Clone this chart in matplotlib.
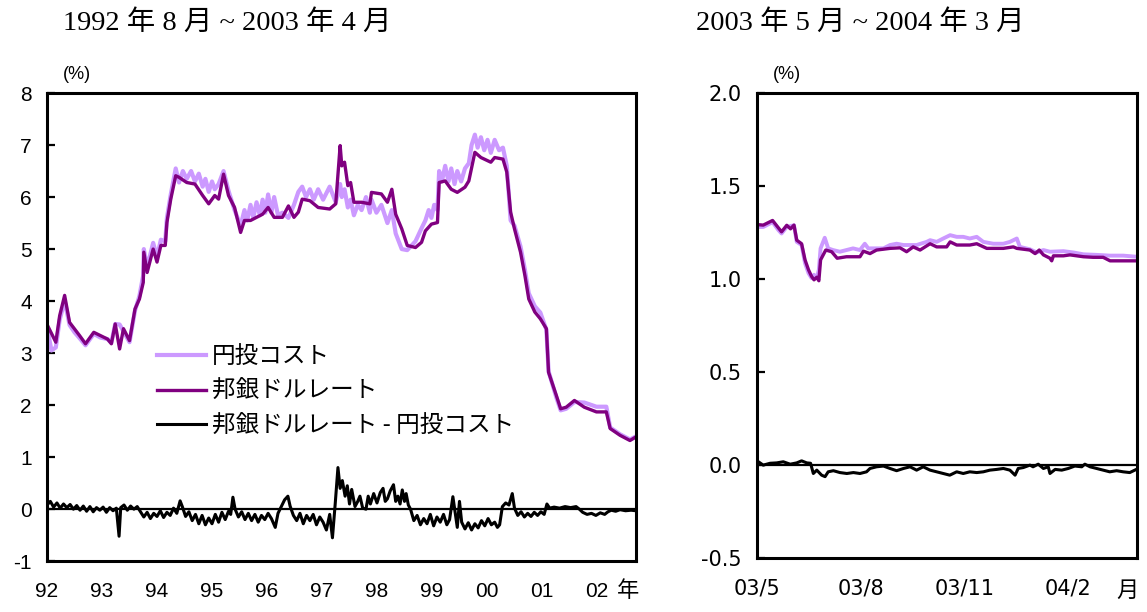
import matplotlib.pyplot as plt
import numpy as np

# ---- left panel: 1992/8 - 2003/4 (decimal years) ----
bank_t = [1992.59, 1992.74, 1992.81, 1992.90, 1992.99, 1993.17, 1993.28, 1993.43, 1993.68, 1993.75,
          1993.82, 1993.90, 1993.97, 1994.08, 1994.18, 1994.26, 1994.33, 1994.34, 1994.40, 1994.51,
          1994.58, 1994.65, 1994.73, 1994.76, 1994.83, 1994.92, 1994.98, 1995.12, 1995.27, 1995.41,
          1995.52, 1995.63, 1995.70, 1995.79, 1995.88, 1995.99, 1996.10, 1996.17, 1996.28, 1996.39,
          1996.50, 1996.60, 1996.71, 1996.86, 1996.97, 1997.07, 1997.15, 1997.22, 1997.36, 1997.51,
          1997.72, 1997.83, 1997.91, 1997.94, 1997.99, 1998.05, 1998.10, 1998.16, 1998.30, 1998.45,
          1998.48, 1998.66, 1998.77, 1998.85, 1998.92, 1999.03, 1999.13, 1999.28, 1999.39, 1999.46,
          1999.57, 1999.68, 1999.71, 1999.82, 1999.93, 2000.04, 2000.18, 2000.25, 2000.36, 2000.47,
          2000.65, 2000.72, 2000.87, 2000.94, 2001.01, 2001.08, 2001.19, 2001.27, 2001.34, 2001.45,
          2001.55, 2001.66, 2001.70, 2001.84, 2001.92, 2002.02, 2002.17, 2002.35, 2002.57, 2002.75,
          2002.82, 2003.00, 2003.18, 2003.29]

# 邦銀ドルレート
bank_rate = [3.53, 3.21, 3.72, 4.11, 3.59, 3.34, 3.18, 3.40, 3.27, 3.18,
             3.56, 3.08, 3.47, 3.24, 3.85, 4.04, 4.36, 4.94, 4.55, 5.00,
             4.75, 5.07, 5.07, 5.51, 5.96, 6.41, 6.38, 6.28, 6.25, 6.03,
             5.87, 6.03, 5.96, 6.44, 6.03, 5.80, 5.32, 5.55, 5.55, 5.61,
             5.67, 5.80, 5.61, 5.61, 5.83, 5.61, 5.71, 5.96, 5.93, 5.80,
             5.77, 5.87, 6.99, 6.60, 6.67, 6.22, 6.28, 5.90, 5.90, 5.87,
             6.09, 6.06, 5.90, 6.15, 5.67, 5.39, 5.07, 5.03, 5.13, 5.35,
             5.48, 5.51, 6.28, 6.31, 6.15, 6.09, 6.19, 6.31, 6.86, 6.76,
             6.67, 6.76, 6.73, 6.48, 5.71, 5.39, 4.94, 4.49, 4.04, 3.79,
             3.66, 3.47, 2.63, 2.19, 1.93, 1.96, 2.09, 1.96, 1.87, 1.87,
             1.55, 1.42, 1.32, 1.39]

# 円投コスト
yen_t = [1992.59, 1992.66, 1992.74, 1992.81, 1992.90, 1992.99, 1993.08, 1993.17, 1993.28, 1993.43,
         1993.55, 1993.68, 1993.75, 1993.82, 1993.90, 1993.97, 1994.08, 1994.18, 1994.26, 1994.33,
         1994.34, 1994.40, 1994.51, 1994.58, 1994.65, 1994.73, 1994.76, 1994.83, 1994.92, 1994.98,
         1995.05, 1995.12, 1995.20, 1995.27, 1995.34, 1995.41, 1995.46, 1995.52, 1995.58, 1995.63,
         1995.70, 1995.79, 1995.88, 1995.99, 1996.10, 1996.17, 1996.22, 1996.28, 1996.33, 1996.39,
         1996.45, 1996.50, 1996.55, 1996.60, 1996.66, 1996.71, 1996.78, 1996.86, 1996.97, 1997.07,
         1997.15, 1997.22, 1997.29, 1997.36, 1997.43, 1997.51, 1997.60, 1997.72, 1997.83, 1997.91,
         1997.94, 1997.99, 1998.05, 1998.10, 1998.16, 1998.23, 1998.30, 1998.38, 1998.45, 1998.48,
         1998.57, 1998.66, 1998.77, 1998.85, 1998.92, 1999.03, 1999.13, 1999.28, 1999.39, 1999.46,
         1999.52, 1999.57, 1999.62, 1999.68, 1999.71, 1999.76, 1999.82, 1999.88, 1999.93, 1999.99,
         2000.04, 2000.11, 2000.18, 2000.25, 2000.30, 2000.36, 2000.41, 2000.47, 2000.53, 2000.59,
         2000.65, 2000.72, 2000.80, 2000.87, 2000.94, 2001.01, 2001.08, 2001.19, 2001.27, 2001.34,
         2001.45, 2001.55, 2001.66, 2001.70, 2001.84, 2001.92, 2002.02, 2002.17, 2002.35, 2002.57,
         2002.75, 2002.82, 2003.00, 2003.18, 2003.29]
yen_cost = [3.45, 3.05, 3.11, 3.64, 4.01, 3.54, 3.40, 3.29, 3.15, 3.37,
            3.30, 3.27, 3.20, 3.56, 3.55, 3.42, 3.21, 3.82, 4.10, 4.50,
            5.00, 4.65, 5.12, 4.85, 5.18, 5.15, 5.60, 6.05, 6.55, 6.28,
            6.50, 6.35, 6.50, 6.30, 6.45, 6.20, 6.35, 6.10, 6.30, 6.15,
            6.25, 6.50, 6.12, 5.75, 5.45, 5.75, 5.55, 5.85, 5.60, 5.90,
            5.65, 5.95, 5.70, 6.05, 5.70, 6.00, 5.65, 5.70, 5.60, 5.85,
            6.10, 6.20, 6.00, 6.15, 5.95, 6.15, 5.95, 6.20, 5.90, 6.25,
            6.00, 6.15, 5.80, 5.95, 5.65, 5.85, 5.75, 6.00, 5.70, 5.95,
            5.70, 5.85, 5.50, 5.75, 5.30, 5.00, 4.98, 5.15, 5.40, 5.55,
            5.75, 5.60, 5.85, 5.75, 6.50, 6.30, 6.60, 6.30, 6.55, 6.25,
            6.50, 6.30, 6.55, 6.65, 7.00, 7.20, 6.95, 7.15, 6.90, 7.10,
            6.85, 7.10, 6.90, 6.95, 6.60, 5.55, 5.45, 5.05, 4.60, 4.15,
            3.90, 3.78, 3.45, 2.65, 2.15, 1.90, 1.93, 2.06, 2.05, 1.97,
            1.97, 1.57, 1.44, 1.34, 1.40]

# 邦銀ドルレート - 円投コスト
diff_t = [1992.58, 1992.64, 1992.70, 1992.76, 1992.82, 1992.88, 1992.94, 1993.00, 1993.06, 1993.12,
          1993.18, 1993.24, 1993.30, 1993.36, 1993.42, 1993.48, 1993.54, 1993.60, 1993.66, 1993.72,
          1993.78, 1993.84, 1993.89, 1993.92, 1993.98, 1994.04, 1994.10, 1994.16, 1994.22, 1994.28,
          1994.34, 1994.40, 1994.46, 1994.52, 1994.58, 1994.64, 1994.70, 1994.76, 1994.82, 1994.88,
          1994.94, 1995.00, 1995.04, 1995.10, 1995.16, 1995.22, 1995.28, 1995.34, 1995.40, 1995.46,
          1995.52, 1995.58, 1995.64, 1995.70, 1995.76, 1995.82, 1995.88, 1995.92, 1995.96, 1996.00,
          1996.06, 1996.12, 1996.18, 1996.24, 1996.30, 1996.36, 1996.42, 1996.48, 1996.54, 1996.60,
          1996.66, 1996.73, 1996.78, 1996.84, 1996.90, 1996.96, 1997.00, 1997.06, 1997.12, 1997.18,
          1997.24, 1997.30, 1997.36, 1997.42, 1997.48, 1997.54, 1997.60, 1997.66, 1997.72, 1997.77,
          1997.82, 1997.87, 1997.91, 1997.95, 1998.00, 1998.04, 1998.08, 1998.12, 1998.18, 1998.23,
          1998.27, 1998.32, 1998.38, 1998.42, 1998.46, 1998.52, 1998.58, 1998.64, 1998.69, 1998.73,
          1998.77, 1998.82, 1998.88, 1998.92, 1998.96, 1999.00, 1999.04, 1999.08, 1999.11, 1999.15,
          1999.19, 1999.25, 1999.31, 1999.37, 1999.43, 1999.49, 1999.55, 1999.61, 1999.67, 1999.73,
          1999.79, 1999.85, 1999.90, 1999.96, 2000.00, 2000.04, 2000.08, 2000.12, 2000.18, 2000.24,
          2000.30, 2000.36, 2000.42, 2000.48, 2000.54, 2000.60, 2000.66, 2000.72, 2000.77, 2000.81,
          2000.86, 2000.92, 2000.98, 2001.04, 2001.08, 2001.14, 2001.20, 2001.26, 2001.32, 2001.38,
          2001.44, 2001.50, 2001.56, 2001.62, 2001.67, 2001.72, 2001.80, 2001.90, 2002.00, 2002.10,
          2002.20, 2002.26, 2002.32, 2002.40, 2002.48, 2002.56, 2002.64, 2002.72, 2002.78, 2002.84,
          2002.92, 2003.00, 2003.10, 2003.20, 2003.29]
diff_val = [0.08, 0.15, 0.04, 0.12, 0.02, 0.10, 0.03, 0.09, 0.00, 0.07,
            -0.02, 0.06, -0.04, 0.05, -0.05, 0.03, -0.02, 0.04, -0.06, 0.03,
            -0.03, 0.02, -0.52, 0.03, 0.08, -0.02, 0.06, 0.00, 0.05, -0.05,
            -0.15, -0.06, -0.18, -0.08, -0.14, -0.03, -0.16, -0.06, -0.12, 0.02,
            -0.08, 0.16, 0.05, -0.14, -0.05, -0.22, -0.10, -0.28, -0.12, -0.30,
            -0.17, -0.28, -0.10, -0.25, -0.06, -0.20, -0.04, -0.10, 0.23, 0.00,
            -0.15, -0.05, -0.20, -0.08, -0.22, -0.10, -0.25, -0.12, -0.20, -0.08,
            -0.18, -0.35, -0.08, 0.05, 0.18, 0.25, 0.06, -0.12, -0.22, -0.08,
            -0.28, -0.12, -0.22, -0.10, -0.30, -0.15, -0.25, -0.40, -0.10, -0.55,
            0.10, 0.80, 0.40, 0.55, 0.25, 0.45, 0.10, 0.38, 0.05, 0.15,
            0.25, 0.02, 0.00, 0.25, 0.10, 0.30, 0.12, 0.32, 0.40, 0.15,
            0.20, 0.35, 0.47, 0.15, 0.25, 0.10, 0.37, 0.15, 0.30, 0.08,
            0.00, -0.22, -0.12, -0.30, -0.18, -0.28, -0.10, -0.32, -0.15, -0.25,
            -0.10, -0.30, -0.20, 0.24, -0.05, -0.35, 0.15, -0.25, -0.38, -0.26,
            -0.40, -0.28, -0.36, -0.22, -0.32, -0.18, -0.30, -0.25, -0.35, -0.30,
            0.05, 0.12, 0.08, 0.30, 0.02, -0.12, -0.05, -0.15, -0.08, -0.14,
            -0.06, -0.12, -0.05, -0.10, 0.10, 0.02, 0.04, 0.02, 0.05, 0.03,
            0.05, 0.00, -0.06, -0.10, -0.08, -0.12, -0.07, -0.10, -0.05, -0.02,
            -0.04, -0.01, -0.03, -0.02, -0.03]

left_tick_labels = ['92', '93', '94', '95', '96', '97', '98', '99', '00', '01', '02']
left_yticks = [8, 7, 6, 5, 4, 3, 2, 1, 0, -1]

# ---- right panel: 2003/5 - 2004/3 (months since 2003/5) ----
r_bank_m = [0.00, 0.18, 0.45, 0.62, 0.71, 0.86, 0.97, 1.07, 1.15, 1.29,
            1.39, 1.49, 1.58, 1.65, 1.73, 1.79, 1.84, 1.99, 2.16, 2.32,
            2.59, 2.88, 2.98, 3.08, 3.27, 3.46, 3.85, 4.14, 4.33, 4.52,
            4.72, 5.01, 5.20, 5.49, 5.59, 5.78, 6.16, 6.36, 6.65, 7.13,
            7.42, 7.52, 7.90, 8.05, 8.17, 8.29, 8.48, 8.53, 8.58, 8.87,
            9.06, 9.45, 9.73, 10.02, 10.22, 10.60, 10.99]
r_bank = [1.293, 1.290, 1.315, 1.275, 1.254, 1.289, 1.270, 1.290, 1.209, 1.190,
          1.103, 1.050, 1.014, 0.996, 1.010, 0.991, 1.103, 1.156, 1.147, 1.112,
          1.120, 1.120, 1.120, 1.150, 1.137, 1.156, 1.165, 1.168, 1.147, 1.173,
          1.156, 1.190, 1.173, 1.173, 1.200, 1.183, 1.183, 1.190, 1.165, 1.165,
          1.173, 1.165, 1.156, 1.137, 1.156, 1.130, 1.112, 1.098, 1.125, 1.125,
          1.130, 1.120, 1.117, 1.117, 1.098, 1.098, 1.098]

r_yen_m = [0.00, 0.18, 0.45, 0.62, 0.71, 0.86, 1.07, 1.15, 1.29, 1.39,
           1.49, 1.58, 1.65, 1.73, 1.79, 1.84, 1.96, 2.06, 2.20, 2.40,
           2.59, 2.78, 2.98, 3.12, 3.22, 3.46, 3.66, 3.85, 4.04, 4.24,
           4.43, 4.62, 4.91, 5.01, 5.20, 5.39, 5.59, 5.78, 5.97, 6.16,
           6.36, 6.55, 6.84, 7.13, 7.32, 7.52, 7.61, 7.90, 8.10, 8.29,
           8.48, 8.87, 9.16, 9.45, 9.84, 10.22, 10.60, 10.99]
r_yen = [1.280, 1.280, 1.306, 1.263, 1.245, 1.280, 1.289, 1.200, 1.183, 1.085,
         1.032, 1.005, 1.023, 1.005, 1.050, 1.165, 1.222, 1.165, 1.156, 1.147,
         1.156, 1.165, 1.156, 1.190, 1.165, 1.165, 1.165, 1.183, 1.190, 1.183,
         1.183, 1.183, 1.200, 1.209, 1.200, 1.218, 1.236, 1.227, 1.227, 1.218,
         1.227, 1.200, 1.190, 1.190, 1.200, 1.218, 1.173, 1.160, 1.143, 1.156,
         1.147, 1.150, 1.143, 1.133, 1.130, 1.126, 1.126, 1.120]

r_diff_m = [0.04, 0.18, 0.38, 0.57, 0.76, 0.96, 1.15, 1.29, 1.44, 1.55,
            1.63, 1.73, 1.87, 1.97, 2.06, 2.21, 2.40, 2.60, 2.79, 2.98,
            3.17, 3.27, 3.46, 3.66, 3.85, 4.04, 4.24, 4.43, 4.62, 4.81,
            5.01, 5.20, 5.39, 5.58, 5.78, 5.97, 6.16, 6.36, 6.55, 6.74,
            6.94, 7.13, 7.32, 7.47, 7.56, 7.71, 7.90, 7.99, 8.14, 8.29,
            8.43, 8.48, 8.63, 8.82, 9.01, 9.20, 9.40, 9.49, 9.64, 9.83,
            10.02, 10.21, 10.41, 10.60, 10.79, 10.98]
r_diff = [0.018, 0.000, 0.010, 0.012, 0.018, 0.005, 0.012, 0.023, 0.012, 0.010,
          -0.045, -0.027, -0.054, -0.062, -0.036, -0.030, -0.040, -0.045, -0.040, -0.045,
          -0.036, -0.018, -0.009, -0.005, -0.018, -0.030, -0.018, -0.009, -0.027, -0.009,
          -0.027, -0.036, -0.045, -0.054, -0.036, -0.045, -0.036, -0.040, -0.036, -0.027,
          -0.023, -0.018, -0.027, -0.054, -0.018, -0.013, 0.000, -0.009, 0.005, -0.018,
          -0.009, -0.045, -0.023, -0.027, -0.018, -0.005, -0.009, 0.005, -0.009, -0.018,
          -0.027, -0.036, -0.030, -0.036, -0.040, -0.023]

right_tick_labels = ['03/5', '03/8', '03/11', '04/2']
right_yticks = [2.0, 1.5, 1.0, 0.5, 0.0, -0.5]

LIGHT = '#CC99FF'
DARK = '#800080'
CJK = ['Noto Sans CJK JP', 'DejaVu Sans']
TITLE_FONT = ['Liberation Serif', 'Noto Sans CJK JP']
plt.rcParams['font.family'] = ['Liberation Sans', 'Noto Sans CJK JP']

fig = plt.figure(figsize=(11.47, 6.12), dpi=100)
ax1 = fig.add_axes([0.041, 0.083, 0.5135, 0.765])
ax2 = fig.add_axes([0.660, 0.088, 0.3313, 0.760])

# titles
fig.text(0.055, 0.962, '1992 年 8 月 ~ 2003 年 4 月', fontsize=20.5, family=TITLE_FONT,
         ha='left', va='center')
fig.text(0.607, 0.962, '2003 年 5 月 ~ 2004 年 3 月', fontsize=20.5, family=TITLE_FONT,
         ha='left', va='center')

# left panel
ax1.plot(yen_t, yen_cost, color=LIGHT, lw=3.0, label='円投コスト')
ax1.plot(bank_t, bank_rate, color=DARK, lw=2.4, label='邦銀ドルレート')
ax1.plot(diff_t, diff_val, color='black', lw=2.2, label='邦銀ドルレート - 円投コスト')
ax1.axhline(0, color='black', lw=1.6)
ax1.set_xlim(1992.58, 2003.29)
ax1.set_ylim(-1, 8)
ax1.set_yticks(left_yticks)
ax1.set_yticklabels([str(v) for v in left_yticks])
ax1.set_xticks(1992.58 + np.arange(len(left_tick_labels)))
ax1.set_xticklabels(left_tick_labels)
ax1.text(0.986, -0.062, '年', transform=ax1.transAxes, fontsize=16, family=CJK,
         ha='center', va='center')
ax1.text(0.05, 1.04, '(%)', transform=ax1.transAxes, fontsize=13, ha='center', va='center')
ax1.legend(loc='upper left', bbox_to_anchor=(0.17, 0.482), frameon=False,
           prop={'family': CJK, 'size': 17}, handlelength=2.1, handletextpad=0.25,
           labelspacing=0.5, borderaxespad=0)

# right panel
ax2.plot(r_yen_m, r_yen, color=LIGHT, lw=2.8)
ax2.plot(r_bank_m, r_bank, color=DARK, lw=2.4)
ax2.plot(r_diff_m, r_diff, color='black', lw=2.2)
ax2.axhline(0, color='black', lw=1.6)
ax2.set_xlim(0, 11)
ax2.set_ylim(-0.5, 2.0)
ax2.set_yticks(right_yticks)
ax2.set_yticklabels([f'{v:.1f}' for v in right_yticks], family='DejaVu Sans')
ax2.set_xticks(np.arange(len(right_tick_labels)) * 3)
ax2.set_xticklabels(right_tick_labels, family='DejaVu Sans')
ax2.text(0.975, -0.07, '月', transform=ax2.transAxes, fontsize=16, family=CJK,
         ha='center', va='center')
ax2.text(0.08, 1.04, '(%)', transform=ax2.transAxes, fontsize=13, ha='center', va='center')

for ax in (ax1, ax2):
    for s in ax.spines.values():
        s.set_linewidth(2.2)
    ax.tick_params(axis='y', direction='in', length=6, width=1.6, pad=11, labelsize=15)
    ax.tick_params(axis='x', length=0, pad=15, labelsize=15)

fig.savefig('out.png', dpi=100)
